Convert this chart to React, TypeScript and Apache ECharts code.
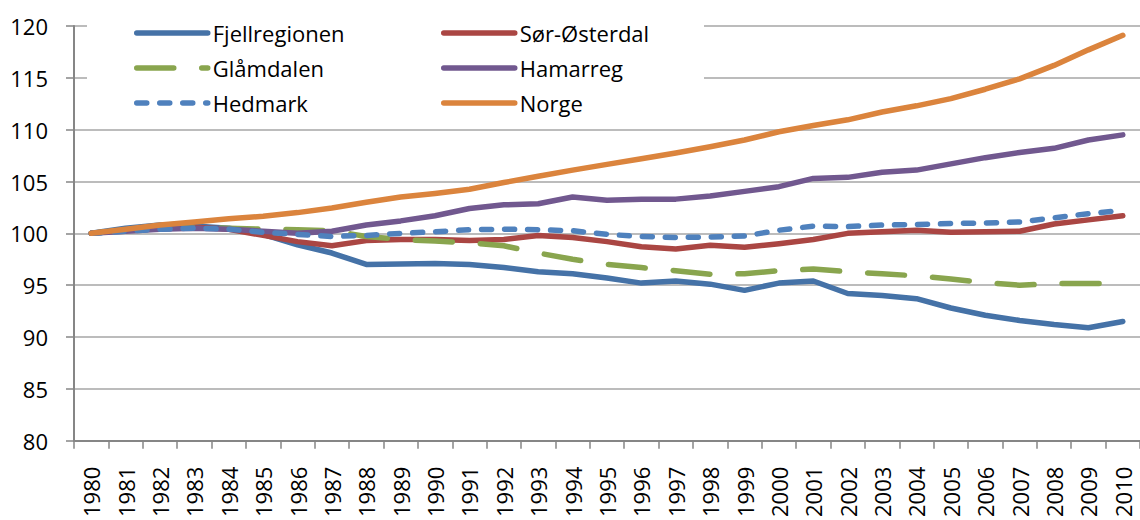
import React, { useEffect, useRef } from "react";
import * as echarts from "echarts";

const years = [
  "1980","1981","1982","1983","1984","1985","1986","1987","1988","1989",
  "1990","1991","1992","1993","1994","1995","1996","1997","1998","1999",
  "2000","2001","2002","2003","2004","2005","2006","2007","2008","2009","2010",
];

const fjellregionen = [100, 100.5, 100.8, 100.7, 100.5, 99.9, 98.9, 98.1, 97.0, 97.05, 97.1, 97.0, 96.7, 96.3, 96.1, 95.7, 95.2, 95.4, 95.1, 94.5, 95.2, 95.4, 94.2, 94.0, 93.7, 92.8, 92.1, 91.6, 91.2, 90.9, 91.5];
const sorOsterdal = [100, 100.3, 100.5, 100.6, 100.4, 99.8, 99.2, 98.8, 99.3, 99.4, 99.4, 99.3, 99.4, 99.8, 99.6, 99.2, 98.7, 98.5, 98.85, 98.65, 99.0, 99.4, 100.0, 100.15, 100.3, 100.1, 100.15, 100.2, 100.9, 101.3, 101.7];
const glamdalen = [100, 100.3, 100.5, 100.6, 100.5, 100.4, 100.35, 100.25, 99.7, 99.4, 99.25, 99.1, 98.8, 98.1, 97.5, 97.0, 96.7, 96.4, 96.05, 96.1, 96.4, 96.55, 96.3, 96.1, 95.9, 95.6, 95.25, 95.0, 95.15, 95.15, 95.15];
const hamarreg = [100, 100.2, 100.4, 100.5, 100.4, 100.2, 100.0, 100.2, 100.8, 101.2, 101.7, 102.4, 102.75, 102.85, 103.5, 103.2, 103.3, 103.3, 103.6, 104.05, 104.5, 105.3, 105.4, 105.9, 106.1, 106.7, 107.3, 107.8, 108.2, 109.0, 109.5];
const hedmark = [100, 100.2, 100.4, 100.5, 100.4, 100.1, 99.9, 99.7, 99.8, 100.0, 100.15, 100.35, 100.4, 100.35, 100.25, 99.9, 99.7, 99.6, 99.65, 99.75, 100.3, 100.7, 100.65, 100.8, 100.85, 100.95, 101.0, 101.1, 101.5, 101.9, 102.2];
const norge = [100, 100.4, 100.8, 101.1, 101.4, 101.65, 102.0, 102.45, 103.0, 103.5, 103.85, 104.25, 104.9, 105.5, 106.1, 106.65, 107.2, 107.75, 108.35, 109.0, 109.8, 110.4, 110.95, 111.7, 112.3, 113.0, 113.9, 114.9, 116.2, 117.7, 119.1];

const names = ["Fjellregionen", "Sør-Østerdal", "Glåmdalen", "Hamarreg", "Hedmark", "Norge"];
const yTicks = { min: 80, max: 120, interval: 5 };

const FONT = "'Open Sans', 'Noto Sans', sans-serif";

export default function App() {
  const ref = useRef<HTMLDivElement>(null);
  useEffect(() => {
    if (!ref.current) return;
    const chart = echarts.init(ref.current, undefined, { renderer: "svg" });
    const mk = (name: string, data: number[], color: string, type: any) => ({
      name,
      type: "line",
      data,
      symbol: "none",
      lineStyle: { color, width: 5.5, type, cap: "round", join: "round" },
      itemStyle: { color },
      z: 2,
    });
    const legendBase = {
      orient: "vertical",
      top: 22,
      padding: 0,
      itemWidth: 71,
      itemHeight: 22,
      itemGap: 13,
      itemStyle: { opacity: 0 },
      lineStyle: { width: 5.5, cap: "round" },
      textStyle: { fontSize: 22, lineHeight: 22, color: "#000", fontFamily: FONT },
      z: 4,
    };
    chart.setOption({
      animation: false,
      backgroundColor: "#fff",
      textStyle: { fontFamily: FONT },
      grid: { left: 74, top: 26, width: 1075, height: 416, containLabel: false },
      graphic: [
        {
          type: "rect",
          z: 1,
          shape: { x: 87, y: 10, width: 617, height: 112 },
          style: { fill: "#fff" },
        },
      ],
      legend: [
        { ...legendBase, data: [names[0], names[2], names[4]], left: 134 },
        { ...legendBase, data: [names[1], names[3], names[5]], left: 441 },
      ],
      xAxis: {
        type: "category",
        data: years,
        boundaryGap: true,
        axisLine: { show: true, lineStyle: { color: "#868686", width: 2 } },
        axisTick: { show: true, length: 8, interval: 0, lineStyle: { color: "#868686", width: 1.5 } },
        axisLabel: { interval: 0, rotate: 90, margin: 26, fontSize: 22, color: "#000", fontFamily: FONT },
        splitLine: { show: false },
      },
      yAxis: {
        type: "value",
        min: yTicks.min,
        max: yTicks.max,
        interval: yTicks.interval,
        axisLine: { show: true, lineStyle: { color: "#868686", width: 2 } },
        axisTick: { show: true, length: 8, lineStyle: { color: "#868686", width: 1.5 } },
        axisLabel: { margin: 26, fontSize: 22, color: "#000", fontFamily: FONT },
        splitLine: { show: true, lineStyle: { color: "#a6a6a6", width: 1.5 } },
      },
      series: [
        mk(names[0], fjellregionen, "#4572A7", "solid"),
        mk(names[1], sorOsterdal, "#AA4643", "solid"),
        mk(names[2], glamdalen, "#89A54E", [37, 28]),
        mk(names[3], hamarreg, "#71588F", "solid"),
        mk(names[4], hedmark, "#4F81BD", [10, 13]),
        mk(names[5], norge, "#DB843D", "solid"),
      ],
    });
    return () => chart.dispose();
  }, []);
  return (
    <div
      ref={ref}
      style={{ position: "fixed", left: 0, top: 0, width: 1140, height: 520 }}
    />
  );
}
